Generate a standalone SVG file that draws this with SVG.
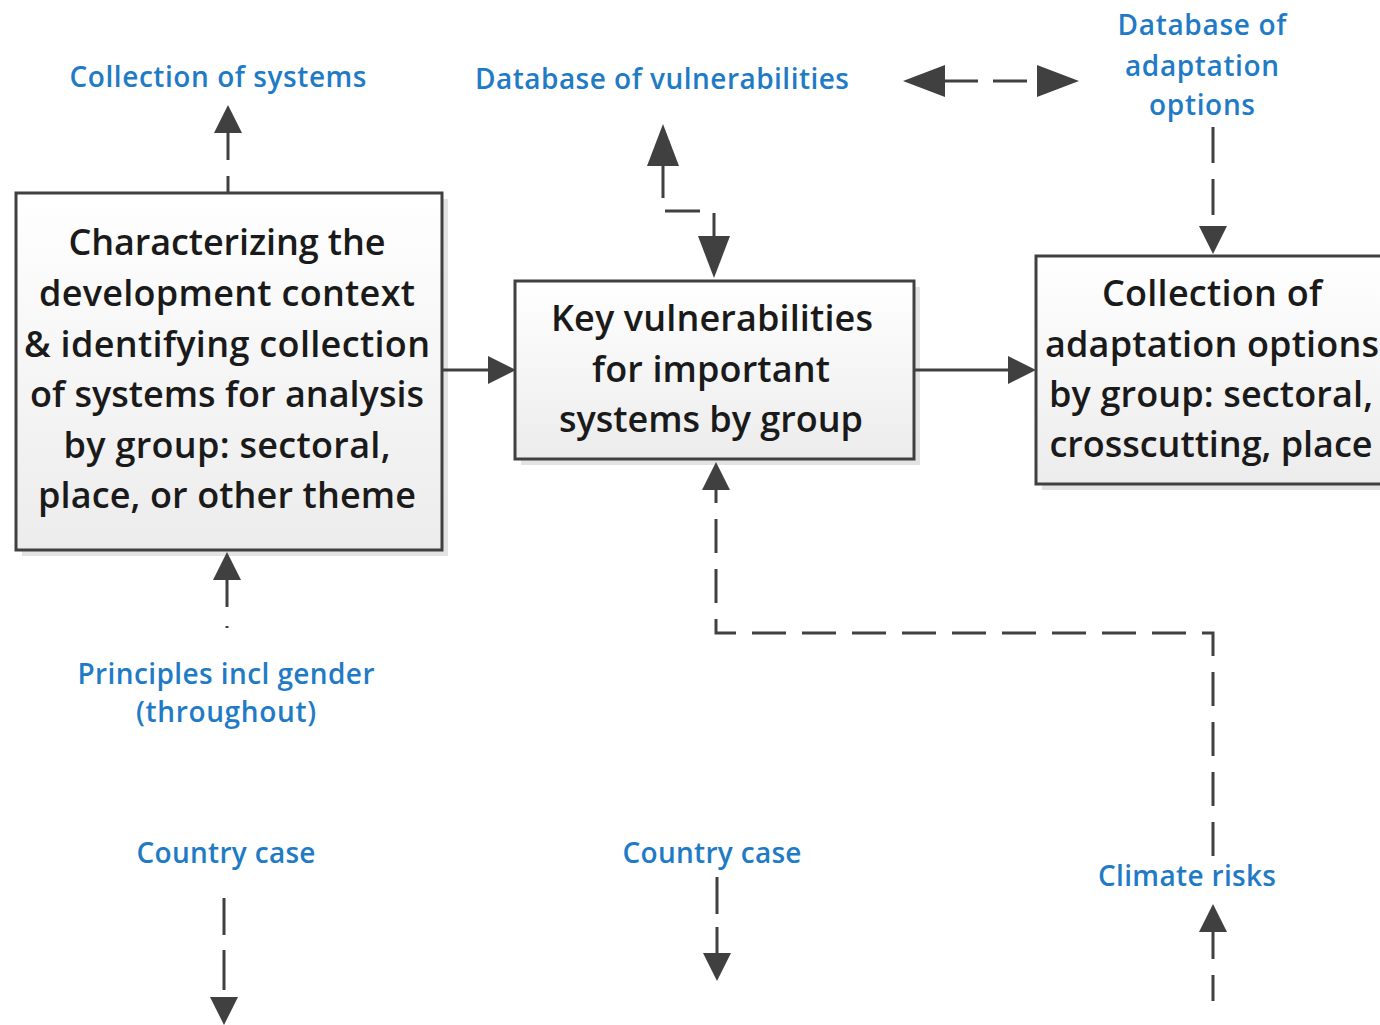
<svg xmlns="http://www.w3.org/2000/svg" width="1380" height="1025" viewBox="0 0 1380 1025">
<style>
.box{fill:url(#g);stroke:#404040;stroke-width:3}
.sh{fill:#e3e3e3}
.bt{font-family:"Open Sans","Liberation Sans",sans-serif;font-size:36px;font-weight:600;fill:#1a1a1a;text-anchor:middle}
.lb{font-family:"Open Sans","Liberation Sans",sans-serif;font-size:28px;font-weight:600;fill:#1f7bc6;text-anchor:middle}
.c{fill:none;stroke:#404040;stroke-width:3}
.d{stroke-dasharray:34 16}
</style>
<defs>
<linearGradient id="g" x1="0" y1="0" x2="0" y2="1">
<stop offset="0" stop-color="#ffffff"/>
<stop offset="1" stop-color="#ececec"/>
</linearGradient>
<marker id="a" markerUnits="userSpaceOnUse" markerWidth="30" markerHeight="32" viewBox="0 -16 30 32" refX="0" refY="0" orient="auto-start-reverse">
<path d="M0,-14 L28,0 L0,14 z" fill="#404040"/>
</marker>
<marker id="aL" markerUnits="userSpaceOnUse" markerWidth="44" markerHeight="36" viewBox="0 -18 44 36" refX="0" refY="0" orient="auto-start-reverse">
<path d="M0,-16 L42,0 L0,16 z" fill="#404040"/>
</marker>
</defs>
<rect width="1380" height="1025" fill="#ffffff"/>

<g id="n-context">
<rect class="sh" x="22" y="199" width="426" height="357"/>
<rect class="box" x="16" y="193" width="426" height="357"/>
<text class="bt" x="227" y="255" textLength="317">Characterizing the</text>
<text class="bt" x="227" y="306" textLength="376">development context</text>
<text class="bt" x="227" y="357" textLength="406">&amp; identifying collection</text>
<text class="bt" x="227" y="407" textLength="394">of systems for analysis</text>
<text class="bt" x="227" y="458" textLength="327">by group: sectoral,</text>
<text class="bt" x="227" y="508" textLength="378">place, or other theme</text>
</g>

<g id="n-keyvuln">
<rect class="sh" x="521" y="287" width="399" height="178"/>
<rect class="box" x="515" y="281" width="399" height="178"/>
<text class="bt" x="712" y="331" textLength="322">Key vulnerabilities</text>
<text class="bt" x="711" y="382" textLength="238">for important</text>
<text class="bt" x="711" y="432" textLength="304">systems by group</text>
</g>

<g id="n-adaptopts">
<rect class="sh" x="1042" y="262" width="352" height="228"/>
<rect class="box" x="1036" y="256" width="352" height="228"/>
<text class="bt" x="1212" y="306" textLength="220">Collection of</text>
<text class="bt" x="1212" y="357" textLength="334">adaptation options</text>
<text class="bt" x="1211" y="407" textLength="324">by group: sectoral,</text>
<text class="bt" x="1211" y="457" textLength="323">crosscutting, place</text>
</g>

<g id="connectors">
<path class="c" d="M228,193 V133" style="stroke-dasharray:17 16 40" marker-end="url(#a)"/>
<path class="c" d="M227,628 V580" style="stroke-dasharray:2 19 40" marker-end="url(#a)"/>
<path class="c" d="M442,370 H488" marker-end="url(#a)"/>
<path class="c" d="M914,370 H1008" marker-end="url(#a)"/>
<path class="c" d="M663,166 V211 H714 V236" style="stroke-dasharray:32 15 35 16 100" marker-start="url(#aL)" marker-end="url(#aL)"/>
<path class="c" d="M945,81 H1037" style="stroke-dasharray:33 15 34 20" marker-start="url(#aL)" marker-end="url(#aL)"/>
<path class="c" d="M1213,127 V226" style="stroke-dasharray:36 16" marker-end="url(#a)"/>
<path class="c d" d="M1213,856 V633 H716 V490" marker-end="url(#a)"/>
<path class="c" d="M1213,1001 V932" style="stroke-dasharray:26 16 40" marker-end="url(#a)"/>
<path class="c" d="M717,877 V953" style="stroke-dasharray:37 13 30" marker-end="url(#a)"/>
<path class="c" d="M224,898 V997" style="stroke-dasharray:37 15 40" marker-end="url(#a)"/>
</g>

<g id="l-collsys"><text class="lb" x="218" y="87" textLength="297">Collection of systems</text></g>
<g id="l-dbvuln"><text class="lb" x="662" y="89" textLength="374">Database of vulnerabilities</text></g>
<g id="l-dbadapt">
<text class="lb" x="1202" y="35" textLength="169">Database of</text>
<text class="lb" x="1202" y="76" textLength="154">adaptation</text>
<text class="lb" x="1202" y="115" textLength="106">options</text>
</g>
<g id="l-principles">
<text class="lb" x="226" y="684" textLength="297">Principles incl gender</text>
<text class="lb" x="226" y="722" textLength="180">(throughout)</text>
</g>
<g id="l-country1"><text class="lb" x="226" y="863" textLength="179">Country case</text></g>
<g id="l-country2"><text class="lb" x="712" y="863" textLength="179">Country case</text></g>
<g id="l-climate"><text class="lb" x="1187" y="886" textLength="178">Climate risks</text></g>
</svg>
